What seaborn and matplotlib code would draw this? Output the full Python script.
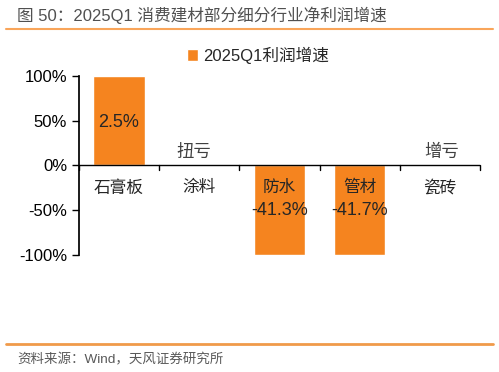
import numpy as np
import matplotlib
matplotlib.use("Agg")
import matplotlib.pyplot as plt
import seaborn as sns
import pandas as pd

categories = ["石膏板", "涂料", "防水", "管材", "瓷砖"]
bar_values = [100, np.nan, -100, -100, np.nan]   # shown capped at +/-100%
value_labels = ["2.5%", "", "-41.3%", "-41.7%", ""]
status_labels = ["", "扭亏", "", "", "增亏"]
series_name = "2025Q1利润增速"
y_ticks = [-100, -50, 0, 50, 100]

sns.set_theme(style="white")
plt.rcParams["font.family"] = ["Liberation Sans", "Noto Sans CJK SC", "DejaVu Sans"]

bar_color = "#F5841F"
df = pd.DataFrame({"cat": categories, "val": bar_values})

fig = plt.figure(figsize=(4.99, 3.72), dpi=100)
ax = fig.add_axes([0.158, 0.315, 0.804, 0.481])

sns.barplot(data=df, x="cat", y="val", color=bar_color, width=0.64,
            saturation=1, ax=ax, label=series_name)

ax.set_ylim(-100, 100)
ax.set_xlim(-0.5, len(categories) - 0.5)
ax.set_yticks(y_ticks)
ax.set_yticklabels([f"{t}%" for t in y_ticks], fontsize=12, color="black")
ax.set_xlabel("")
ax.set_ylabel("")

# x axis through zero, category labels just under it
for s in ["top", "right", "bottom"]:
    ax.spines[s].set_visible(False)
ax.spines["left"].set_color("black")
ax.axhline(0, color="black", lw=1)
ax.set_xticks([])
for i in range(len(categories) + 1):
    ax.plot([i - 0.5, i - 0.5], [0, -5], color="black", lw=1, clip_on=False)
ax.tick_params(axis="y", length=5, width=1, color="black", direction="out", left=True)

for i, cat in enumerate(categories):
    ax.text(i, -25, cat, ha="center", va="center", fontsize=12)
    if value_labels[i]:
        v = bar_values[i]
        y = 48 if v > 0 else -51
        ax.text(i, y, value_labels[i], ha="center", va="center", fontsize=13)
    if status_labels[i]:
        dx = -0.07 if i == 1 else 0.02
        ax.text(i + dx, 15.5, status_labels[i], ha="center", va="center",
                fontsize=12.5, color="#404040")

ax.legend(loc="center", bbox_to_anchor=(0.446, 1.117), frameon=False,
          fontsize=12, handlelength=0.7, handleheight=0.7, handletextpad=0.3)

# title and decorations
fig.text(0.034, 0.958, "图 50：2025Q1 消费建材部分细分行业净利润增速", fontsize=12,
         color="#505050", ha="left", va="center")
fig.add_artist(plt.Line2D([0.012, 0.988], [0.921, 0.921], color="#F9A55A", lw=1.5))
fig.add_artist(plt.Line2D([0.012, 0.988], [0.075, 0.075], color="#F09A4A", lw=2))
fig.text(0.034, 0.032, "资料来源：Wind，天风证券研究所", fontsize=9.7,
         color="#595959", ha="left", va="center")

fig.savefig("out.png", dpi=100)
